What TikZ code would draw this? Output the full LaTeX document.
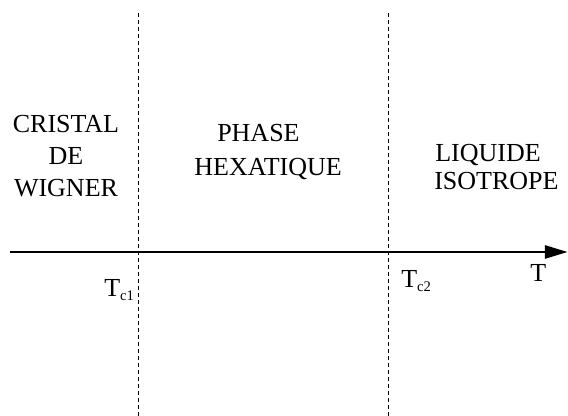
\documentclass[tikz,border=0pt]{standalone}
\usepackage{fontspec}
\setmainfont{Liberation Serif}
\usetikzlibrary{arrows.meta}
\tikzset{
	etiquette/.style={inner sep=0pt, anchor=base, font=\fontsize{19.5}{24}\selectfont},
	seuil/.style={inner sep=0pt, anchor=base west, font=\fontsize{19.5}{24}\selectfont},
}
\newcommand{\indice}[1]{\raisebox{-2.5pt}{\fontsize{11}{11}\selectfont #1}}
\begin{document}
\begin{tikzpicture}[line join=round,>={Triangle[length=17pt,width=10pt]},x=0.75pt,y=-0.75pt]
	\def \xmin{10};
	\def \xmax{567.5};
	\def \yaxe{252};
	\useasboundingbox (0,0) rectangle (568,416);
	\coordinate (g) at (\xmin,\yaxe);
	\coordinate (d) at (\xmax,\yaxe);
	\draw[->,line width=1.3pt] (g) -- (d);
	\foreach \x/\n in {138/1,388/2}{
		\coordinate (h\n) at (\x,13);
		\coordinate (b\n) at (\x,416);
		\draw[dash pattern=on 3pt off 2.25pt,line width=0.5pt] (h\n) -- (b\n);
	}
	% les trois phases
	\foreach \l/\y/\t in {1/133/CRISTAL,2/165/DE,3/197/WIGNER}{
		\node[etiquette] (cristal\l) at (66,\y) {\t};
	}
	\node[etiquette,anchor=base west] (hexa1) at (217,142) {PHASE};
	\node[etiquette,anchor=base east] (hexa2) at (342,176) {HEXATIQUE};
	\node[etiquette,anchor=base west] (liquide1) at (435,162) {LIQUIDE};
	\node[etiquette,anchor=base west] (liquide2) at (434,190) {ISOTROPE};
	% temperatures
	\node[seuil] (T) at (530,282) {T};
	\node[seuil] (tc1) at (104,297) {T\indice{c1}};
	\node[seuil] (tc2) at (401,288) {T\indice{c2}};
\end{tikzpicture}
\end{document}
